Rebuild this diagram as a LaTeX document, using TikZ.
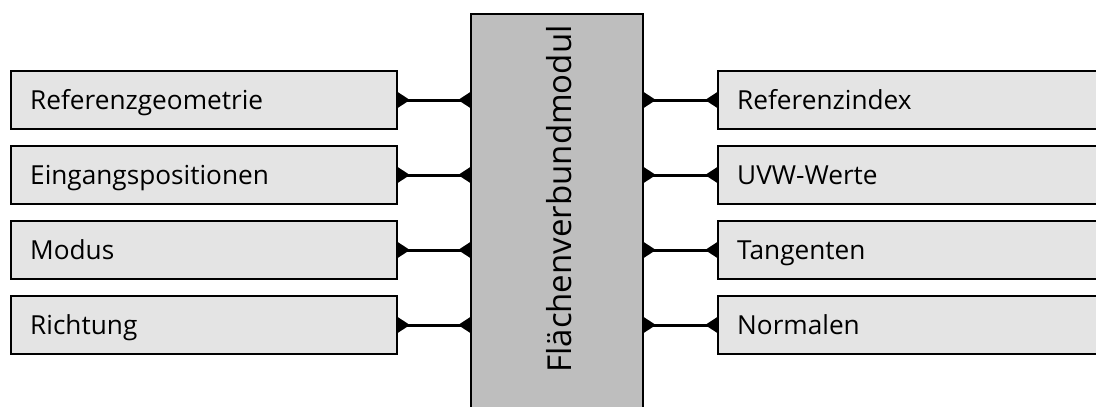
\documentclass[tikz,border=0pt]{standalone}
\usepackage{fontspec}
\setmainfont{Open Sans}
\usetikzlibrary{arrows.meta}
\definecolor{boxfill}{HTML}{E4E4E4}
\definecolor{modfill}{HTML}{BEBEBE}
\tikzset{
  port/.style={draw=black, line width=2pt, fill=boxfill, minimum width=386pt,
    minimum height=58pt, anchor=west, inner sep=0pt},
  portlabel/.style={anchor=base west, font=\fontsize{26.2}{30}\selectfont, inner sep=0pt},
  link/.style={line width=3pt, {Triangle[reversed,length=13pt,width=16pt]}-{Triangle[reversed,length=13pt,width=16pt]}, shorten <=-1pt, shorten >=-1pt},
}
\begin{document}
\begin{tikzpicture}[x=1pt,y=-1pt]
\useasboundingbox (0,0) rectangle (1096,407);
\clip (0,0) rectangle (1096,407);
% central module
\node[draw=black, line width=2pt, fill=modfill, minimum width=172pt, minimum height=420pt,
  anchor=north, inner sep=0pt] (mod) at (557,13) {};
\node[rotate=90, font=\fontsize{33}{40}\selectfont, anchor=base, inner sep=0pt] (modtext) at (571,199) {Flächenverbundmodul};
% input ports
\foreach \name/\txt/\yy in {in1/Referenzgeometrie/100, in2/Eingangspositionen/175, in3/Modus/250, in4/Richtung/325}{
  \node[port] (\name) at (10,\yy) {};
  \node[portlabel] at (30,\yy+9) {\txt};
  \coordinate (\name m) at (mod.west |- \name.east);
  \draw[link] (\name.east) -- (\name m);
}
% output ports
\foreach \name/\txt/\yy in {out1/Referenzindex/100, out2/UVW-Werte/175, out3/Tangenten/250, out4/Normalen/325}{
  \node[port] (\name) at (717,\yy) {};
  \node[portlabel] at (737,\yy+9) {\txt};
  \coordinate (\name m) at (mod.east |- \name.west);
  \draw[link] (\name m) -- (\name.west);
}
\end{tikzpicture}
\end{document}
